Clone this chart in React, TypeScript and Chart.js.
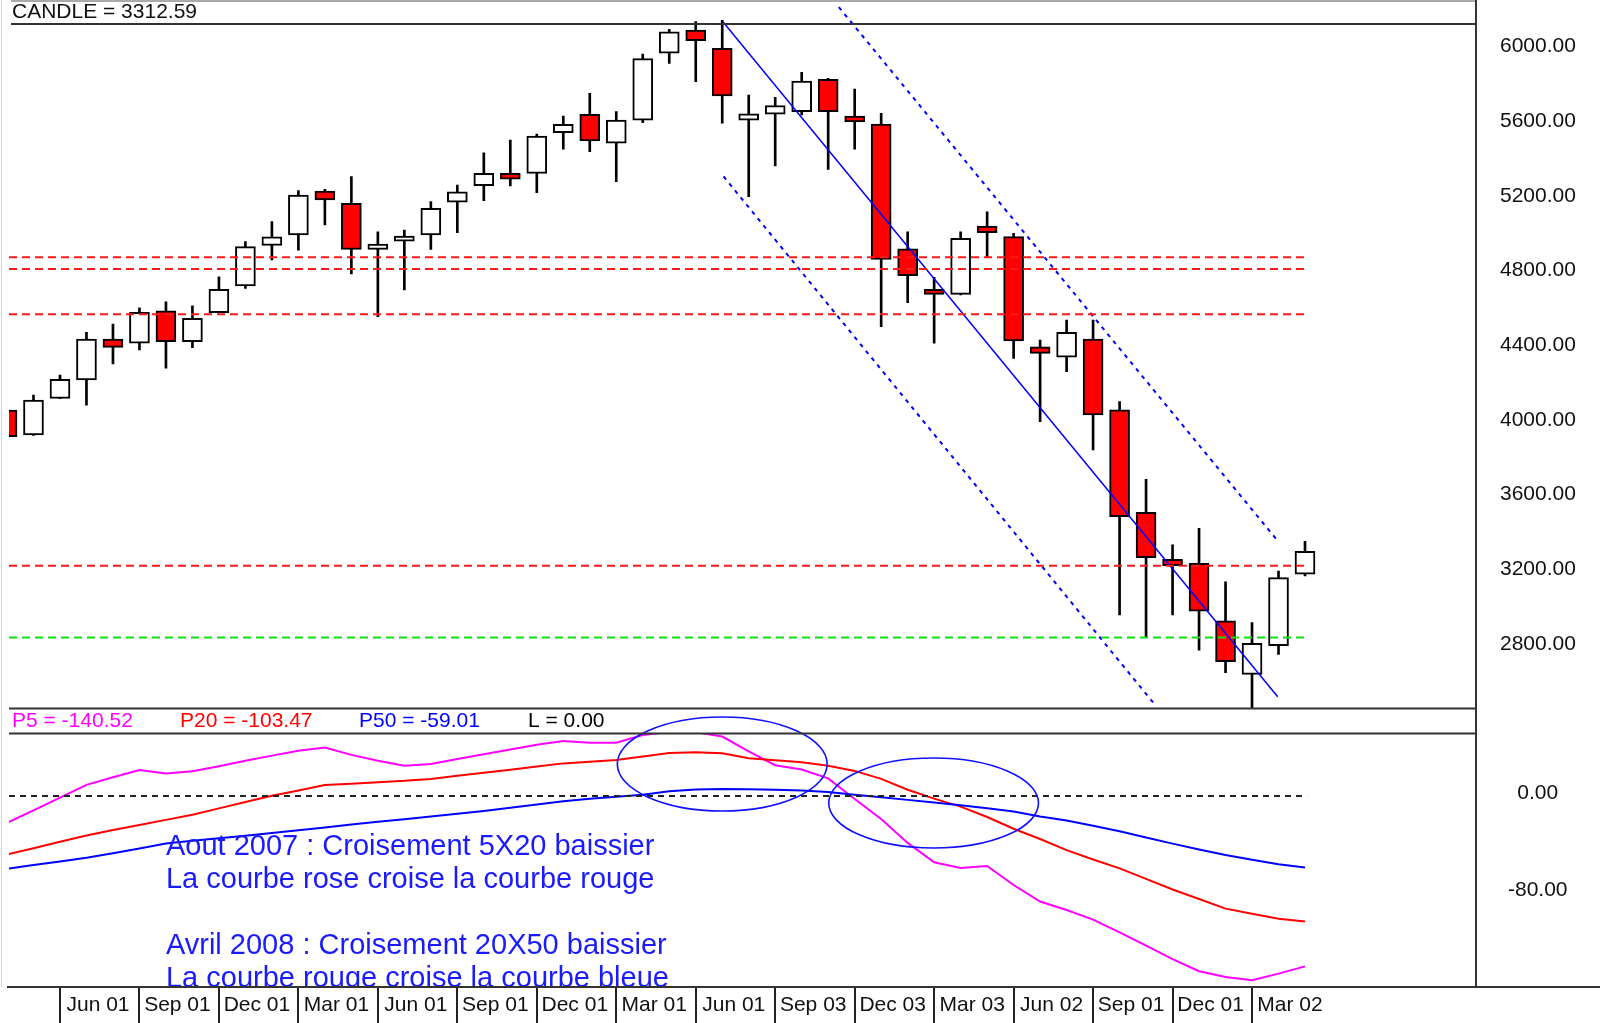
import { useEffect, useRef } from 'react';
import { Chart, registerables } from 'chart.js';

Chart.register(...registerables);

// ---------- DATA ----------
const candleOpen = [4069, 3936, 4132, 4230, 4450, 4427, 4601, 4435, 4591, 4734, 4951, 5007, 5242, 5176, 4930, 4974, 5007, 5182, 5271, 5337, 5337, 5554, 5653, 5498, 5622, 5980, 6104, 6006, 5622, 5653, 5667, 5840, 5644, 5601, 4932, 4716, 4689, 5055, 4998, 4408, 4352, 4450, 4070, 3522, 3270, 3249, 2940, 2654, 2807, 3190];
const candleHigh = [4150, 4150, 4257, 4486, 4530, 4617, 4649, 4628, 4783, 4971, 5078, 5244, 5251, 5319, 5024, 5033, 5185, 5274, 5447, 5515, 5547, 5644, 5765, 5667, 5976, 6108, 6149, 6156, 5756, 5744, 5878, 5846, 5788, 5658, 5024, 4780, 5024, 5131, 5016, 4444, 4551, 4551, 4114, 3698, 3347, 3436, 3150, 2931, 3207, 3366];
const candleLow = [3891, 3934, 4130, 4096, 4316, 4391, 4293, 4403, 4589, 4721, 4873, 4926, 5060, 4798, 4569, 4712, 4930, 5019, 5190, 5269, 5233, 5466, 5453, 5292, 5608, 5926, 5828, 5605, 5212, 5376, 5649, 5358, 5466, 4516, 4644, 4427, 4686, 4890, 4346, 4007, 4275, 3856, 2972, 2856, 2972, 2784, 2663, 2472, 2761, 3181];
const candleClose = [3927, 4123, 4234, 4450, 4405, 4593, 4435, 4561, 4716, 4944, 4997, 5221, 5194, 4930, 4958, 5001, 5150, 5238, 5337, 5305, 5537, 5599, 5510, 5622, 5951, 6094, 6047, 5751, 5655, 5699, 5831, 5667, 5612, 4876, 4789, 4689, 4989, 5019, 4439, 4373, 4486, 4043, 3498, 3279, 3236, 2993, 2722, 2820, 3172, 3312.59];

const p5Values = [-22.2, -11.8, -1.4, 9.2, 15.4, 21.4, 18.5, 20.5, 24.5, 29.1, 33.3, 37.4, 40, 33.9, 29.1, 24.9, 26.4, 30.5, 34.5, 38.4, 42.2, 45.3, 44, 44, 50.3, 52.7, 52.5, 49, 36.8, 25.4, 21.9, 14.5, -2.5, -19, -38.7, -54.7, -59.4, -57.7, -73.4, -87, -94, -102, -112.5, -123.4, -134.5, -144.5, -149.3, -152, -146.5, -140.52];
const p20Values = [-48.3, -43.1, -37.8, -32.6, -28.1, -23.9, -19.7, -15.5, -10.2, -5, 0.2, 4.6, 9, 10.2, 11.4, 12.5, 14.1, 16.7, 19.2, 21.7, 24.3, 26.9, 28.3, 29.7, 32.5, 35.4, 36, 35.2, 31.2, 29.5, 27.9, 25, 20.7, 14.1, 5.2, -2.2, -8.8, -17.3, -27, -35.5, -44.6, -52.4, -59.7, -68.3, -77.1, -85, -92.9, -97.1, -101.3, -103.47];
const p50Values = [-60, -57, -54, -51, -47.3, -43.3, -39.2, -37, -34.8, -32.7, -30.5, -28.2, -25.9, -23.6, -21.3, -19.1, -16.9, -14.7, -12.4, -9.7, -7, -4.4, -2.3, -0.7, 1, 3.9, 5.4, 5.8, 5.5, 5.1, 4.6, 3.3, 1.1, -1, -3.2, -5.3, -7.6, -10.1, -12.8, -16.9, -20.3, -24.6, -29, -34.2, -39.3, -44.1, -48.6, -52.5, -56.2, -59.01];

const xTickIndexes = [2, 5, 8, 11, 14, 17, 20, 23, 26, 29, 32, 35, 38, 41, 44, 47];
const xTickLabels = ['Jun 01', 'Sep 01', 'Dec 01', 'Mar 01', 'Jun 01', 'Sep 01', 'Dec 01', 'Mar 01', 'Jun 01', 'Sep 03', 'Dec 03', 'Mar 03', 'Jun 02', 'Sep 01', 'Dec 01', 'Mar 02'];
const priceTicks = [2800, 3200, 3600, 4000, 4400, 4800, 5200, 5600, 6000];
const oscTicks = [0, -80];

const redLevels = [4887, 4825, 4582, 3236];
const greenLevels = [2852];
const levelEndIndex = 49.08;

const trendMain = [{ x: 27.04, y: 6146 }, { x: 47.97, y: 2534 }];
const trendUpper = [{ x: 31.4, y: 6227 }, { x: 47.9, y: 3381 }];
const trendLower = [{ x: 27.05, y: 5320 }, { x: 43.37, y: 2485 }];

const ellipses = [
  { cx: 27.0, cy: 26.4, rx: 3.96, ry: 38.8 },
  { cx: 34.98, cy: -5.8, rx: 3.96, ry: 37.1 },
];

const annotations = [
  { text: 'Aout 2007 : Croisement 5X20 baissier', x: 6.0, y: -48.7 },
  { text: 'La courbe rose croise la courbe rouge', x: 6.0, y: -75.5 },
  { text: 'Avril 2008 : Croisement 20X50 baissier', x: 6.0, y: -130.3 },
  { text: 'La courbe rouge croise la courbe bleue', x: 6.0, y: -157.2 },
];

const headerCandle = 'CANDLE = 3312.59';
const legendItems = [
  { text: 'P5 = -140.52', color: '#FF00FF', x: 12 },
  { text: 'P20 = -103.47', color: '#FF0000', x: 180 },
  { text: 'P50 = -59.01', color: '#0000FF', x: 359 },
  { text: 'L = 0.00', color: '#000000', x: 528 },
];

// ---------- LAYOUT ----------
const X_MIN = 0.0755;
const X_MAX = 55.455;
const PRICE_MIN = 2471.2;
const PRICE_MAX = 6136.5;
const OSC_MIN = -157.53;
const OSC_MAX = 72.16;
const PRICE_PANEL_H = 684.5;
const OSC_PANEL_H = 278.5;
const BAND_H = 25;
const FONT = '"Liberation Sans", Arial, sans-serif';

const zeroPadding = (s: any) => {
  s.paddingTop = 0;
  s.paddingBottom = 0;
  s.paddingLeft = 0;
  s.paddingRight = 0;
};

const framePlugin = {
  id: 'framePlugin',
  afterDatasetsDraw(chart: any) {
    const { ctx, chartArea, scales } = chart;
    const x = scales.x;
    const yO = scales.yOsc;
    ctx.save();
    ctx.strokeStyle = '#1010FF';
    ctx.lineWidth = 1.6;
    for (const e of ellipses) {
      const cx = x.getPixelForValue(e.cx);
      const cy = yO.getPixelForValue(e.cy);
      const rx = Math.abs(x.getPixelForValue(e.cx + e.rx) - cx);
      const ry = Math.abs(yO.getPixelForValue(e.cy + e.ry) - cy);
      ctx.beginPath();
      ctx.ellipse(cx, cy, rx, ry, 0, 0, Math.PI * 2);
      ctx.stroke();
    }
    ctx.restore();

    ctx.save();
    ctx.beginPath();
    ctx.rect(chartArea.left, yO.top + BAND_H, chartArea.right - chartArea.left, yO.bottom - yO.top - BAND_H);
    ctx.clip();
    ctx.font = '29px ' + FONT;
    ctx.fillStyle = '#1A1AFF';
    ctx.textBaseline = 'alphabetic';
    ctx.textAlign = 'left';
    for (const a of annotations) {
      ctx.fillText(a.text, x.getPixelForValue(a.x), yO.getPixelForValue(a.y));
    }
    ctx.restore();
  },
  afterDraw(chart: any) {
    const { ctx, chartArea, scales } = chart;
    const yP = scales.y;
    const L = chartArea.left;
    const R = chartArea.right;
    const T = chartArea.top;
    const B = chartArea.bottom;
    const W = chart.width;
    ctx.save();
    const hline = (x1: number, x2: number, y: number, w: number, c: string) => {
      ctx.strokeStyle = c; ctx.lineWidth = w;
      ctx.beginPath(); ctx.moveTo(x1, y); ctx.lineTo(x2, y); ctx.stroke();
    };
    const vline = (x: number, y1: number, y2: number, w: number, c: string) => {
      ctx.strokeStyle = c; ctx.lineWidth = w;
      ctx.beginPath(); ctx.moveTo(x, y1); ctx.lineTo(x, y2); ctx.stroke();
    };
    vline(1.5, 0, B, 1, '#d8d8d8');
    hline(L + 2, R, 1, 1, '#555');
    hline(L + 2, R, T, 2, '#333');
    hline(L, R, yP.bottom, 2, '#333');
    hline(L, R, yP.bottom + BAND_H, 2, '#333');
    hline(L - 2, W, B, 2, '#333');
    vline(R, 0, B, 2, '#333');

    ctx.font = '21px ' + FONT;
    ctx.textBaseline = 'middle';
    ctx.textAlign = 'left';
    ctx.fillStyle = '#111';
    ctx.fillText(headerCandle, 12, T / 2 + 0.5);
    const bandMid = yP.bottom + BAND_H / 2 + 0.5;
    for (const it of legendItems) {
      ctx.fillStyle = it.color;
      ctx.fillText(it.text, it.x, bandMid);
    }
    ctx.restore();
  },
};

function buildConfig(): any {
  const idx = candleOpen.map((_, i) => i);
  const wickData = idx.map((i) => ({ x: i, y: [candleLow[i], candleHigh[i]] }));
  const bodyData = idx.map((i) => ({ x: i, y: [candleOpen[i], candleClose[i]] }));
  const bodyColors = idx.map((i) => (candleClose[i] < candleOpen[i] ? '#FF0000' : '#FFFFFF'));

  const levelLine = (v: number, color: string) => ({
    type: 'line',
    data: [{ x: X_MIN, y: v }, { x: levelEndIndex, y: v }],
    yAxisID: 'y',
    borderColor: color,
    borderWidth: 2,
    borderDash: [8, 5],
    pointRadius: 0,
    order: 0,
  });

  const oscClip = { left: 0, right: 0, top: -BAND_H, bottom: 0 };
  const oscLine = (vals: number[], color: string) => ({
    type: 'line',
    data: vals.map((v, i) => ({ x: i, y: v })),
    yAxisID: 'yOsc',
    borderColor: color,
    borderWidth: 2,
    pointRadius: 0,
    tension: 0,
    clip: oscClip,
    order: 0,
  });

  const priceOverflow = { left: 0, right: 0, top: 24, bottom: 0 };

  return {
    type: 'line',
    data: {
      datasets: [
        {
          type: 'bar',
          data: wickData,
          yAxisID: 'y',
          backgroundColor: '#000000',
          borderWidth: 0,
          barThickness: 2,
          grouped: false,
          clip: priceOverflow,
          order: 2,
        },
        {
          type: 'bar',
          data: bodyData,
          yAxisID: 'y',
          backgroundColor: bodyColors,
          borderColor: '#000000',
          borderWidth: 2,
          borderSkipped: false,
          barThickness: 20,
          grouped: false,
          clip: priceOverflow,
          order: 1,
        },
        ...redLevels.map((v) => levelLine(v, '#FF1A1A')),
        ...greenLevels.map((v) => levelLine(v, '#10E010')),
        {
          type: 'line', data: trendMain, yAxisID: 'y', borderColor: '#0000FF', borderWidth: 1.5,
          pointRadius: 0, clip: priceOverflow, order: 0,
        },
        {
          type: 'line', data: trendUpper, yAxisID: 'y', borderColor: '#0000FF', borderWidth: 2,
          borderDash: [4, 5], pointRadius: 0, clip: priceOverflow, order: 0,
        },
        {
          type: 'line', data: trendLower, yAxisID: 'y', borderColor: '#0000FF', borderWidth: 2,
          borderDash: [4, 5], pointRadius: 0, clip: priceOverflow, order: 0,
        },
        {
          type: 'line', data: [{ x: X_MIN, y: 0 }, { x: levelEndIndex, y: 0 }], yAxisID: 'yOsc',
          borderColor: '#222222', borderWidth: 2, borderDash: [6, 5], pointRadius: 0, order: 0,
        },
        oscLine(p50Values, '#0000FF'),
        oscLine(p20Values, '#FF0000'),
        oscLine(p5Values, '#FF00FF'),
      ],
    },
    options: {
      responsive: false,
      animation: false,
      devicePixelRatio: 1,
      events: [],
      layout: { padding: { left: 9, top: 24, right: 0, bottom: 0 } },
      plugins: {
        legend: { display: false },
        tooltip: { enabled: false },
        title: { display: false },
      },
      scales: {
        x: {
          type: 'linear',
          position: 'bottom',
          min: X_MIN,
          max: X_MAX,
          offset: false,
          afterBuildTicks: (s: any) => { s.ticks = xTickIndexes.map((v) => ({ value: v })); },
          afterFit: (s: any) => { s.height = 36; zeroPadding(s); },
          grid: { display: true, offset: false, drawOnChartArea: false, drawTicks: true, tickLength: 36, color: '#222', lineWidth: 2 },
          border: { display: false },
          ticks: {
            autoSkip: false,
            maxRotation: 0,
            minRotation: 0,
            labelOffset: 38,
            padding: -30,
            color: '#111',
            font: { size: 21, family: FONT },
            callback: (_v: any, i: number) => xTickLabels[i],
          },
        },
        y: {
          type: 'linear',
          position: 'right',
          stack: 'panels',
          stackWeight: PRICE_PANEL_H,
          min: PRICE_MIN,
          max: PRICE_MAX,
          afterBuildTicks: (s: any) => { s.ticks = priceTicks.map((v) => ({ value: v })); },
          afterFit: (s: any) => { s.width = 124; zeroPadding(s); },
          grid: { display: false, drawTicks: false },
          border: { display: false },
          ticks: {
            crossAlign: 'center',
            padding: 24,
            labelOffset: -3,
            color: '#111',
            font: { size: 21, family: FONT },
            callback: (v: any) => Number(v).toFixed(2),
          },
        },
        yOsc: {
          type: 'linear',
          position: 'right',
          stack: 'panels',
          stackWeight: OSC_PANEL_H,
          min: OSC_MIN,
          max: OSC_MAX,
          afterBuildTicks: (s: any) => { s.ticks = oscTicks.map((v) => ({ value: v })); },
          afterFit: (s: any) => { s.width = 124; zeroPadding(s); },
          grid: { display: false, drawTicks: false },
          border: { display: false },
          ticks: {
            crossAlign: 'center',
            padding: 32,
            labelOffset: -3,
            color: '#111',
            font: { size: 21, family: FONT },
            callback: (v: any) => Number(v).toFixed(2),
          },
        },
      },
    },
    plugins: [framePlugin],
  };
}

export default function App() {
  const ref = useRef<HTMLCanvasElement>(null);
  useEffect(() => {
    if (!ref.current) return;
    const chart = new Chart(ref.current, buildConfig());
    return () => chart.destroy();
  }, []);
  return (
    <div style={{ position: 'absolute', left: 0, top: 0, width: 1600, height: 1023, background: '#ffffff' }}>
      <canvas ref={ref} width={1600} height={1023} style={{ width: 1600, height: 1023, display: 'block' }} />
    </div>
  );
}
